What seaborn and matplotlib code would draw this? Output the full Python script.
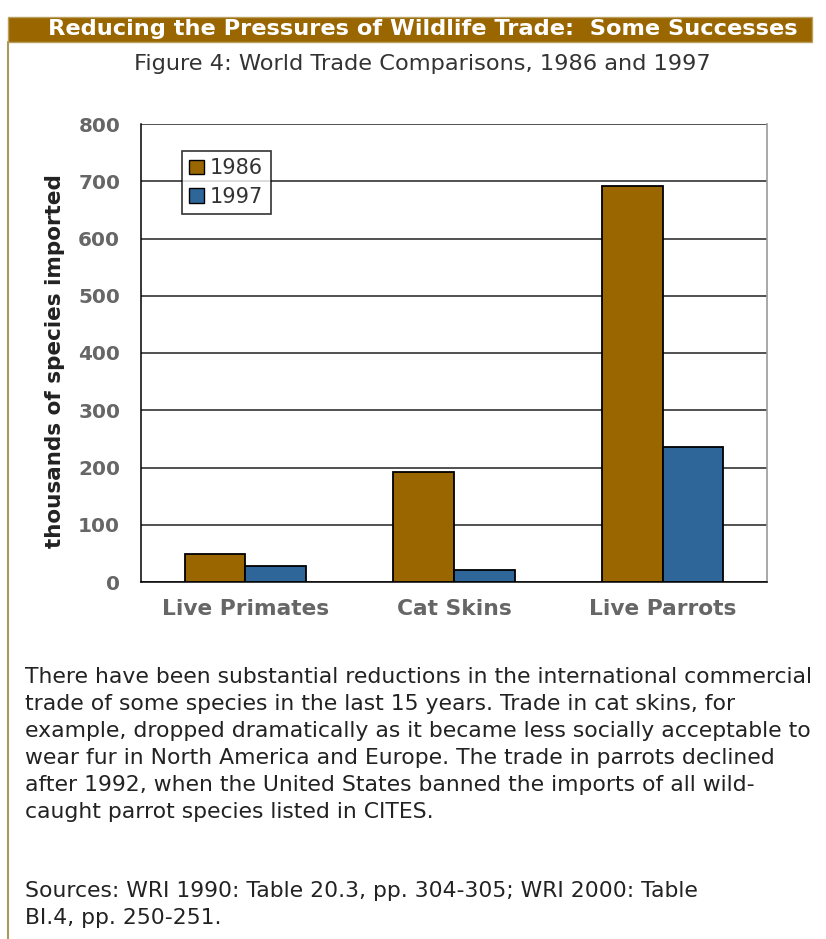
import matplotlib
matplotlib.use("Agg")
import matplotlib.pyplot as plt
from matplotlib.patches import Rectangle
import seaborn as sns
import pandas as pd

categories = ["Live Primates", "Cat Skins", "Live Parrots"]
years = ["1986", "1997"]
values_1986 = [49, 192, 692]
values_1997 = [28, 21, 235]
y_ticks = [0, 100, 200, 300, 400, 500, 600, 700, 800]

title = "Reducing the Pressures of Wildlife Trade:  Some Successes"
subtitle = "Figure 4: World Trade Comparisons, 1986 and 1997"
y_label = "thousands of species imported"
body_lines = [
    "There have been substantial reductions in the international commercial",
    "trade of some species in the last 15 years. Trade in cat skins, for",
    "example, dropped dramatically as it became less socially acceptable to",
    "wear fur in North America and Europe. The trade in parrots declined",
    "after 1992, when the United States banned the imports of all wild-",
    "caught parrot species listed in CITES.",
]
source_lines = [
    "Sources: WRI 1990: Table 20.3, pp. 304-305; WRI 2000: Table",
    "BI.4, pp. 250-251.",
]

BROWN = "#996600"
BLUE = "#2E6699"
TICK_GRAY = "#666666"
TEXT = "#333333"

df = pd.DataFrame({
    "category": categories * 2,
    "year": [years[0]] * 3 + [years[1]] * 3,
    "value": values_1986 + values_1997,
})

sns.set_style("white")
plt.rcParams["font.family"] = ["DejaVu Sans"]

W, H = 826, 939
fig = plt.figure(figsize=(W / 100, H / 100), dpi=100)
fig.patch.set_facecolor("white")


def fx(px):
    return px / W


def fy(py):
    return 1 - py / H


# page frame: header bar and left rule
fig.patches.append(Rectangle((fx(8), fy(42)), fx(812) - fx(8), fy(17) - fy(42),
                             transform=fig.transFigure, facecolor=BROWN,
                             edgecolor="#B8A060", linewidth=1, zorder=0))
fig.add_artist(plt.Line2D([fx(8), fx(8)], [fy(42), fy(939)],
                          transform=fig.transFigure, color="#A89A5A", linewidth=1.5))
fig.text(fx(423), fy(29), title, color="white", fontsize=16.2,
         fontweight="bold", ha="center", va="center")
fig.text(fx(422), fy(64), subtitle, color=TEXT, fontsize=16.2,
         ha="center", va="center")

ax = fig.add_axes([fx(141), fy(582), fx(767) - fx(141), fy(124) - fy(582)])
sns.barplot(data=df, x="category", y="value", hue="year",
            palette=[BROWN, BLUE], width=0.58, saturation=1,
            edgecolor="black", linewidth=1.3, ax=ax, legend=False, zorder=3)

ax.set_xlim(-0.5, 2.5)
ax.set_ylim(0, 800)
ax.set_yticks(y_ticks)
ax.set_yticklabels([str(t) for t in y_ticks])
ax.yaxis.grid(True, color="#222222", linewidth=1.1, zorder=0)
ax.set_axisbelow(True)

ax.tick_params(axis="y", direction="out", length=6, width=1.1, color="black",
               labelcolor=TICK_GRAY, labelsize=14.4, pad=9)
for lab in ax.get_yticklabels():
    lab.set_fontweight("bold")

ax.set_xticks(range(len(categories)))
ax.set_xticklabels(categories)
ax.tick_params(axis="x", length=0, labelcolor=TICK_GRAY, labelsize=15.7, pad=12)
for lab in ax.get_xticklabels():
    lab.set_fontweight("bold")
ax.set_xticks([-0.5, 0.5, 1.5, 2.5], minor=True)
ax.tick_params(axis="x", which="minor", direction="out", length=6, width=1.1,
               color="black")

ax.set_xlabel("")
ax.set_ylabel(y_label, fontsize=15.5, fontweight="bold", color="#222222")
ax.yaxis.set_label_coords(-0.121, 0.4825)

ax.spines["top"].set_visible(False)
ax.spines["left"].set_color("black")
ax.spines["left"].set_linewidth(1.1)
ax.spines["bottom"].set_color("black")
ax.spines["bottom"].set_linewidth(1.1)
ax.spines["right"].set_color("#999999")
ax.spines["right"].set_linewidth(1.2)

handles = [Rectangle((0, 0), 1, 1, facecolor=c, edgecolor="black", linewidth=1)
           for c in [BROWN, BLUE]]
leg = ax.legend(handles, years, loc="upper left",
                bbox_to_anchor=(fx(182), fy(151)), bbox_transform=fig.transFigure,
                frameon=True, fancybox=False, fontsize=15, handlelength=0.7,
                handleheight=0.7, handletextpad=0.3, borderpad=0.35,
                labelspacing=0.4, borderaxespad=0)
leg.get_frame().set_edgecolor("black")
leg.get_frame().set_linewidth(1.2)
for t in leg.get_texts():
    t.set_color(TEXT)

for i, line in enumerate(body_lines):
    fig.text(fx(25), fy(677 + 27 * i), line, color="#222222", fontsize=15.75,
             ha="left", va="center")
for i, line in enumerate(source_lines):
    fig.text(fx(25), fy(891 + 27 * i), line, color="#222222", fontsize=15.75,
             ha="left", va="center")

fig.savefig("out.png", dpi=100, facecolor="white")
